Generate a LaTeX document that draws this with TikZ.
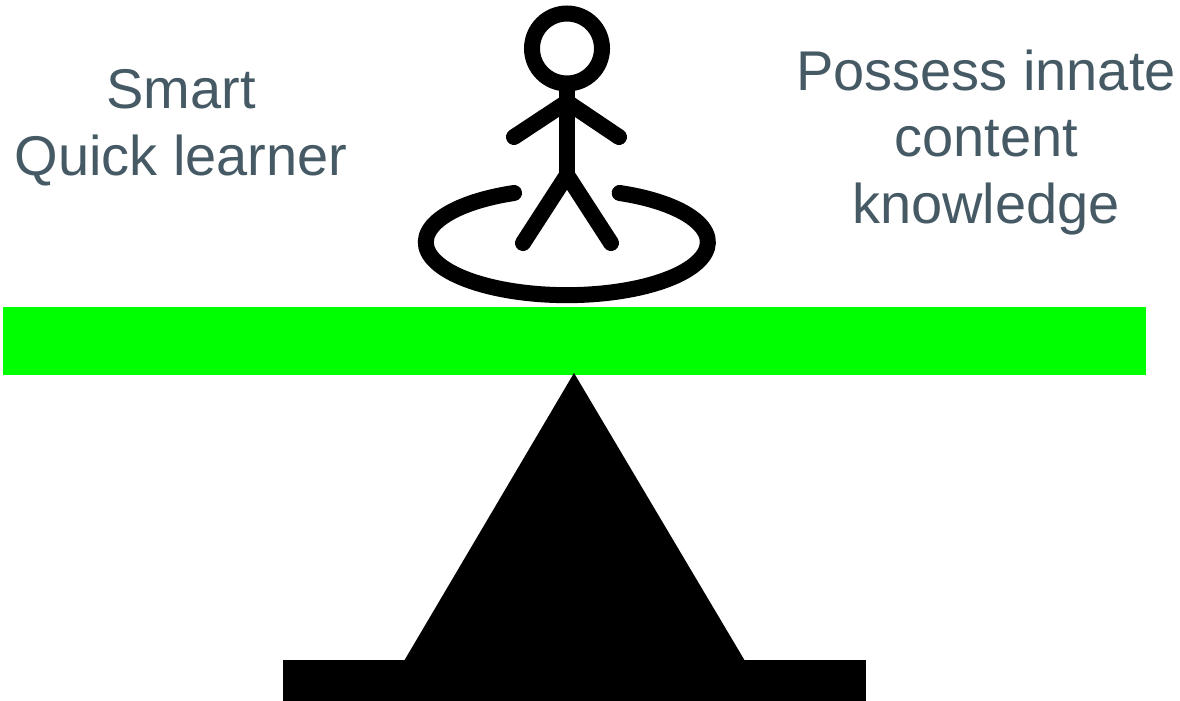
\documentclass[tikz,border=0pt]{standalone}
\usepackage{fontspec}
\setmainfont{Liberation Sans}
\definecolor{slatetext}{HTML}{455A64}
\definecolor{beamgreen}{HTML}{00FF00}
\tikzset{
    sidetext/.style={text=slatetext, align=center, font=\fontsize{56}{66.5}\selectfont, inner sep=0pt},
    stick/.style={line width=16pt, line cap=round, black}
}
\begin{document}
\begin{tikzpicture}[x=1pt,y=-1pt]
        \useasboundingbox (0,0) rectangle (1180,701);
        % Beam and fulcrum
        \fill[beamgreen] (3,307) rectangle (1146,375);
        \fill[black] (574,373) -- (745,661) -- (404,661) -- cycle;
        \fill[black] (283,660) rectangle (866,701);
        
        % Stick figure
        \draw[stick] (567,48.5) circle (35);
        \draw[stick] (567,90) -- (567,175);
        \draw[stick] (514,137) -- (567,102) -- (619,137);
        \draw[stick] (523,243) -- (567,175) -- (611,243);
        \draw[stick] (514,193) arc[start angle=-112, end angle=-428, x radius=141, y radius=53];
        
        % Annotations
        \node[sidetext] (smart) at (181,127.5) {Smart\\Quick learner};
        \node[sidetext] (innate) at (986,142.5) {Possess innate\\content\\knowledge};
\end{tikzpicture}
\end{document}
